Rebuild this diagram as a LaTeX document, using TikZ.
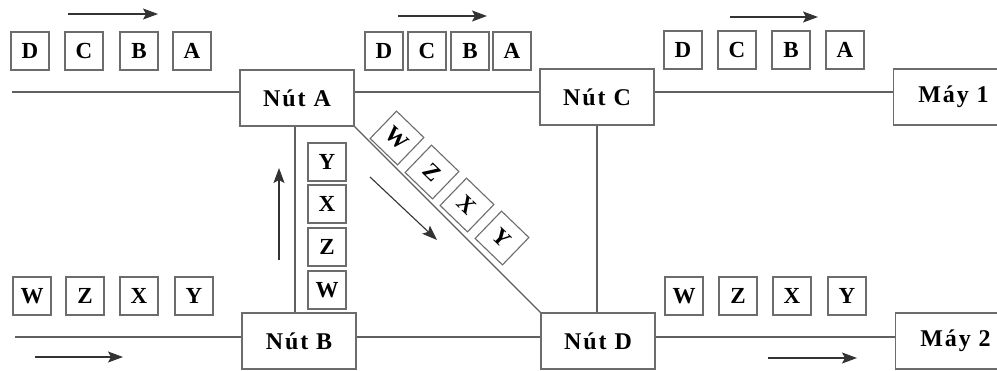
\documentclass[tikz,border=0pt]{standalone}
\usepackage{fontspec}
\setmainfont{Liberation Serif}
\newfontfamily\nutfont[LetterSpace=8]{Liberation Serif}
\usepackage{tikz}
\usetikzlibrary{arrows.meta,positioning,calc}

\begin{document}
\begin{tikzpicture}[
    x=1pt, y=-1pt,
    nut/.style={rectangle, draw=gray!85!black, line width=1.1pt, minimum width=114pt, minimum height=56pt, inner sep=0pt, font=\nutfont\fontsize{24}{26}\selectfont\bfseries},
    goi/.style={rectangle, draw=gray!85!black, line width=1.1pt, minimum size=38pt, inner sep=0pt, font=\fontsize{23}{25}\selectfont\bfseries},
    lien/.style={draw=gray!75!black, line width=1.2pt},
    huong/.style={-{Stealth[length=15pt,width=11pt,inset=3pt]}, line width=1.1pt, black!80}
]
    \clip (0,0) rectangle (997,370);

    % Nodes
    \node[nut] (nA) at (297,98) {Nút A};
    \node[nut] (nC) at (597,97) {Nút C};
    \node[nut] (nB) at (299,341) {Nút B};
    \node[nut] (nD) at (598,341) {Nút D};
    \node[nut, anchor=west] (m1) at (893,97) {\hspace{6pt}Máy 1};
    \node[nut, anchor=west] (m2) at (895,341) {\hspace{6pt}Máy 2};

    % Free line ends
    \coordinate (vaoA) at (12,92);
    \coordinate (vaoB) at (15,337);

    % Links
    \draw[lien] (vaoA) -- (vaoA -| nA.west);
    \draw[lien] (vaoA -| nA.east) -- (vaoA -| nC.west);
    \draw[lien] (vaoA -| nC.east) -- (vaoA -| m1.west);
    \draw[lien] (vaoB) -- (vaoB -| nB.west);
    \draw[lien] (vaoB -| nB.east) -- (vaoB -| nD.west);
    \draw[lien] (vaoB -| nD.east) -- (vaoB -| m2.west);
    \draw[lien] ([xshift=-2pt]nA.south) -- ([xshift=-2pt]nA.south |- nB.north);
    \draw[lien] (nC.south) -- (nC.south |- nD.north);
    \draw[lien] (nA.south east) -- (nD.north west);

    % Packets
    \foreach \t/\x [count=\i] in {D/30, C/84, B/139, A/192}
        \node[goi] (p1\i) at (\x,51) {\t};
    \foreach \t/\x [count=\i] in {D/384, C/427, B/470, A/512}
        \node[goi] (p2\i) at (\x,51) {\t};
    \foreach \t/\x [count=\i] in {D/683, C/737, B/791, A/845}
        \node[goi] (p3\i) at (\x,50) {\t};
    \foreach \t/\x [count=\i] in {W/32, Z/85, X/139, Y/194}
        \node[goi] (p4\i) at (\x,296) {\t};
    \foreach \t/\x [count=\i] in {W/684, Z/738, X/792, Y/847}
        \node[goi] (p5\i) at (\x,296) {\t};
    \foreach \t/\y [count=\i] in {Y/162, X/204, Z/247, W/290}
        \node[goi] (p6\i) at (327,\y) {\t};
    \foreach \t/\x/\y [count=\i] in {W/397/138, Z/432/172, X/467/205, Y/502/238}
        \node[goi, rotate=-44] (p7\i) at (\x,\y) {\t};

    % Directions
    \coordinate (h1a) at (68,14);   \coordinate (h1b) at (158,14);
    \coordinate (h2a) at (398,16);  \coordinate (h2b) at (487,16);
    \coordinate (h3a) at (730,17);  \coordinate (h3b) at (818,17);
    \coordinate (h4a) at (35,357);  \coordinate (h4b) at (123,357);
    \coordinate (h5a) at (768,358); \coordinate (h5b) at (857,358);
    \coordinate (h6a) at (279,260); \coordinate (h6b) at (279,168);
    \coordinate (h7a) at (370,177); \coordinate (h7b) at (437,240);
    \foreach \i in {1,...,7}
        \draw[huong] (h\i a) -- (h\i b);
\end{tikzpicture}
\end{document}
